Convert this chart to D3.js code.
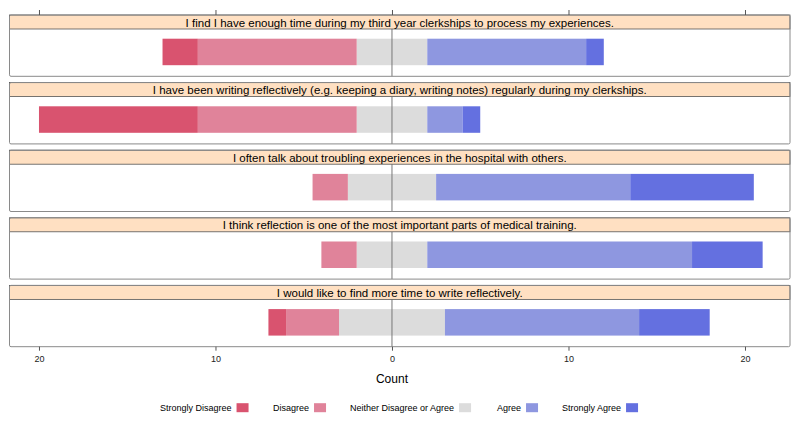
<!DOCTYPE html>
<html>
<head>
<meta charset="utf-8">
<script src="https://cdn.jsdelivr.net/npm/d3@7"></script>
<style>
  body { margin: 0; background: #fff; }
  text { font-family: "Liberation Sans", Arial, Helvetica, sans-serif; }
</style>
</head>
<body>
<div id="chart"></div>
<script>
// survey items, one panel each
const questions = [
  "I find I have enough time during my third year clerkships to process my experiences.",
  "I have been writing reflectively (e.g. keeping a diary, writing notes) regularly during my clerkships.",
  "I often talk about troubling experiences in the hospital with others.",
  "I think reflection is one of the most important parts of medical training.",
  "I would like to find more time to write reflectively."
];
const levels = ["Strongly Disagree", "Disagree", "Neither Disagree or Agree", "Agree", "Strongly Agree"];
const colors = ["#d9536f", "#e0839a", "#dcdcdc", "#8e97e0", "#6470e0"];

// counts per level, in question order
const stronglyDisagree = [2, 9, 0, 0, 1];
const disagree = [9, 9, 2, 2, 3];
const neutral = [4, 4, 5, 4, 6];
const agree = [9, 2, 11, 15, 11];
const stronglyAgree = [1, 1, 7, 4, 4];

const tickValues = [-20, -10, 0, 10, 20];

const width = 800, height = 422;
const svg = d3.select("#chart").append("svg")
  .attr("width", width)
  .attr("height", height);

const x = d3.scaleLinear().domain([-21.67, 22.55]).range([9.5, 790]);
const y = d3.scaleBand().domain(questions).range([15, 346.7]).paddingInner(0.093).paddingOuter(0);
const stripH = 14;

// build segments: neutral is split across zero
const segs = [];
questions.forEach((q, i) => {
  const half = neutral[i] / 2;
  let left = -half;
  segs.push({q, lvl: 2, x0: -half, x1: half});
  segs.push({q, lvl: 1, x0: left - disagree[i], x1: left});
  left -= disagree[i];
  segs.push({q, lvl: 0, x0: left - stronglyDisagree[i], x1: left});
  let right = half;
  segs.push({q, lvl: 3, x0: right, x1: right + agree[i]});
  right += agree[i];
  segs.push({q, lvl: 4, x0: right, x1: right + stronglyAgree[i]});
});

const panels = svg.selectAll("g.panel").data(questions).join("g")
  .attr("class", "panel")
  .attr("transform", d => "translate(0," + y(d) + ")");

const bh = y.bandwidth();

// panel background
panels.append("rect")
  .attr("x", x.range()[0]).attr("y", 0)
  .attr("width", x.range()[1] - x.range()[0]).attr("height", bh)
  .attr("fill", "#fff");

// bars
panels.each(function(q) {
  d3.select(this).selectAll("rect.bar")
    .data(segs.filter(s => s.q === q && s.x1 > s.x0))
    .join("rect")
    .attr("class", "bar")
    .attr("x", s => x(s.x0))
    .attr("width", s => x(s.x1) - x(s.x0))
    .attr("y", 23.7)
    .attr("height", 26.5)
    .attr("fill", s => colors[s.lvl]);
});

// zero reference line
panels.append("line")
  .attr("x1", x(0)).attr("x2", x(0))
  .attr("y1", stripH).attr("y2", bh)
  .attr("stroke", "#777").attr("stroke-width", 1);

// strip
panels.append("rect")
  .attr("x", x.range()[0]).attr("y", 0)
  .attr("width", x.range()[1] - x.range()[0]).attr("height", stripH)
  .attr("fill", "#ffe0c2")
  .attr("stroke", "#555").attr("stroke-width", 0.8);

panels.append("text")
  .attr("x", (x.range()[0] + x.range()[1]) / 2)
  .attr("y", stripH / 2 + 0.5)
  .attr("text-anchor", "middle")
  .attr("dominant-baseline", "central")
  .attr("font-size", 11.5)
  .text(d => d);

// panel border
panels.append("rect")
  .attr("x", x.range()[0]).attr("y", 0)
  .attr("width", x.range()[1] - x.range()[0]).attr("height", bh)
  .attr("fill", "none")
  .attr("stroke", "#8a8a8a").attr("stroke-width", 1)
  .attr("rx", 1.5);

// top ticks (no labels)
const topAxis = d3.axisTop(x).tickValues(tickValues).tickSize(5).tickFormat("");
svg.append("g")
  .attr("transform", "translate(0," + y.range()[0] + ")")
  .call(topAxis)
  .call(g => g.select(".domain").remove())
  .call(g => g.selectAll("line").attr("stroke", "#555"));

// bottom axis with absolute values
const bottomAxis = d3.axisBottom(x).tickValues(tickValues).tickSize(4)
  .tickPadding(5).tickFormat(d => Math.abs(d));
svg.append("g")
  .attr("transform", "translate(0," + y.range()[1] + ")")
  .call(bottomAxis)
  .call(g => g.select(".domain").remove())
  .call(g => g.selectAll("line").attr("stroke", "#555"))
  .call(g => g.selectAll("text").attr("font-size", 9).attr("fill", "#222")
    .attr("font-family", "'Liberation Sans', Arial, sans-serif"));

svg.append("text")
  .attr("x", x(0))
  .attr("y", 379)
  .attr("text-anchor", "middle")
  .attr("dominant-baseline", "central")
  .attr("font-size", 12)
  .text("Count");

// legend
const legendX = [160, 273, 350, 497, 562];
const legend = svg.append("g").attr("transform", "translate(0,407.7)");
levels.forEach((lvl, i) => {
  const t = legend.append("text")
    .attr("x", legendX[i]).attr("y", 0)
    .attr("dominant-baseline", "central")
    .attr("font-size", 9)
    .text(lvl);
  const w = t.node().getComputedTextLength();
  legend.append("rect")
    .attr("x", legendX[i] + w + 5).attr("y", -4.5)
    .attr("width", 12).attr("height", 9)
    .attr("fill", colors[i]);
});
</script>
</body>
</html>
